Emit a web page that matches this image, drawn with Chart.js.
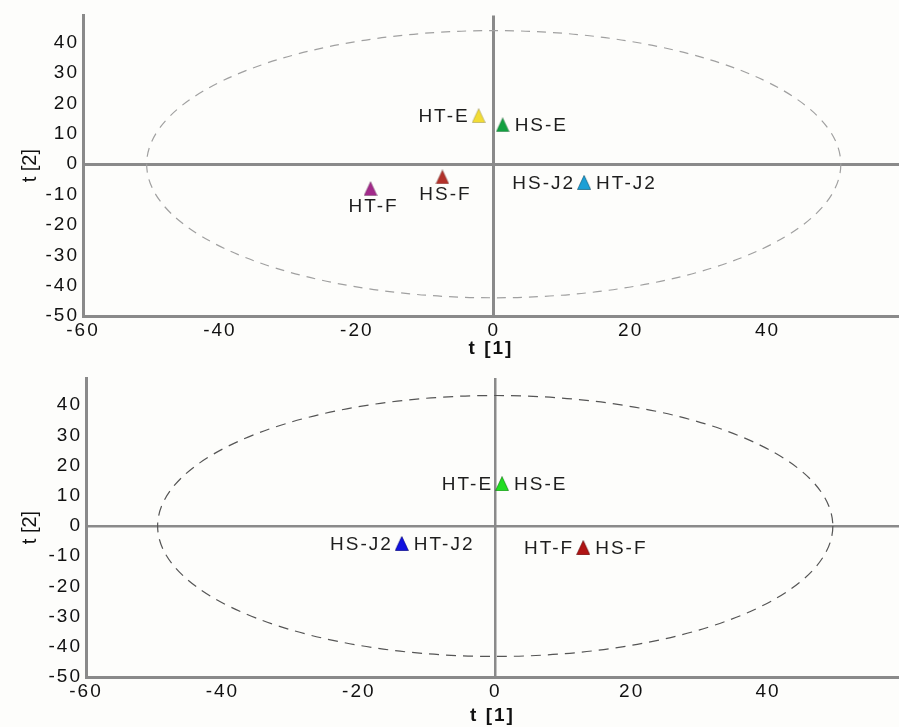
<!DOCTYPE html>
<html>
<head>
<meta charset="utf-8">
<script src="https://cdn.jsdelivr.net/npm/chart.js@4/dist/chart.umd.min.js"></script>
<style>
  html, body { margin: 0; padding: 0; background: #fdfdfb; }
  #c1 { position: absolute; left: 0; top: 0; }
  #c2 { position: absolute; left: 0; top: 360px; }
</style>
</head>
<body>
<canvas id="c1" width="899" height="360"></canvas>
<canvas id="c2" width="899" height="367"></canvas>
<script>
// -------------------- DATA --------------------
const xTicks = [-60, -40, -20, 0, 20, 40];
const yTicks = [-50, -40, -30, -20, -10, 0, 10, 20, 30, 40];

// top score plot
const topNames = ["HT-E", "HS-E", "HS-F", "HT-F", "HS-J2", "HT-J2"];
const topX = [-2.2, 1.3, -7.5, -18.0, 13.2, 13.2];
const topY = [16.0, 13.0, -4.2, -8.0, -6.0, -6.0];
const topColors = ["#f2dc34", "#12a040", "#b2312a", "#a22a8a", "#1d9fd6", "#1d9fd6"];
const topEllipse = { rx: 50.7, ry: 44 };

// bottom score plot
const botNames = ["HT-E", "HS-E", "HS-J2", "HT-J2", "HT-F", "HS-F"];
const botX = [1.0, 1.0, -13.7, -13.7, 12.9, 12.9];
const botY = [14.0, 14.0, -5.8, -5.8, -7.2, -7.2];
const botColors = ["#22dd22", "#22dd22", "#1212e0", "#1212e0", "#b01414", "#b01414"];
const botEllipse = { rx: 49.5, ry: 43.2 };

// where each label sits relative to its marker
const topPlace = { "HT-E": "left", "HS-E": "right", "HS-F": "below", "HT-F": "below", "HS-J2": "left", "HT-J2": "right" };
const botPlace = { "HT-E": "left", "HS-E": "right", "HS-J2": "left", "HT-J2": "right", "HT-F": "left", "HS-F": "right" };

const FONT = "'Liberation Sans', Arial, sans-serif";
const AXIS_GRAY = "#8a8a8a";
const SPACING = "2px"; // the original lettering is wide

// -------------------- HELPERS --------------------
function triangle(color) {
  const c = document.createElement("canvas");
  c.width = 14; c.height = 15;
  const g = c.getContext("2d");
  g.beginPath();
  g.moveTo(7, 0.5);
  g.lineTo(13.5, 14.5);
  g.lineTo(0.5, 14.5);
  g.closePath();
  g.fillStyle = color;
  g.fill();
  g.lineWidth = 0.6;
  g.strokeStyle = "rgba(0,0,0,0.35)";
  g.stroke();
  return c;
}

const spacingPlugin = {
  id: "spacing",
  beforeDraw(chart) { chart.ctx.letterSpacing = SPACING; }
};

const ellipsePlugin = {
  id: "ellipse",
  beforeDatasetsDraw(chart, args, opts) {
    const { ctx, scales: { x, y } } = chart;
    const cx = x.getPixelForValue(0), cy = y.getPixelForValue(0);
    const rx = x.getPixelForValue(opts.rx) - cx;
    const ry = cy - y.getPixelForValue(opts.ry);
    ctx.save();
    ctx.beginPath();
    ctx.setLineDash(opts.dash);
    ctx.strokeStyle = opts.color;
    ctx.lineWidth = 1.2;
    ctx.ellipse(cx, cy, rx, ry, 0, 0, Math.PI * 2);
    ctx.stroke();
    ctx.restore();
  }
};

const labelPlugin = {
  id: "pointLabels",
  afterDatasetsDraw(chart, args, opts) {
    const { ctx, scales: { y } } = chart;
    const meta = chart.getDatasetMeta(0);
    const names = chart.data.labels;
    ctx.save();
    ctx.font = "19px " + FONT;
    ctx.fillStyle = "#1e1e1e";
    ctx.textBaseline = "middle";
    meta.data.forEach((pt, i) => {
      const where = opts.place[names[i]];
      if (where === "left") {
        ctx.textAlign = "right";
        ctx.fillText(names[i], pt.x - 9, pt.y + 1);
      } else if (where === "right") {
        ctx.textAlign = "left";
        ctx.fillText(names[i], pt.x + 12, pt.y + 1);
      } else {
        ctx.textAlign = "center";
        ctx.fillText(names[i], pt.x + 3, pt.y + 18);
      }
    });
    // y axis title, drawn without the extra spacing
    ctx.letterSpacing = "0px";
    ctx.translate(opts.titleX, (y.top + y.bottom) / 2);
    ctx.rotate(-Math.PI / 2);
    ctx.textAlign = "center";
    ctx.font = "20px " + FONT;
    ctx.fillStyle = "#111";
    ctx.fillText("t [2]", 0, 0);
    ctx.restore();
  }
};

function makeChart(id, names, xs, ys, colors, ell, place, opt) {
  const points = xs.map((v, i) => ({ x: v, y: ys[i] }));
  const styles = colors.map(triangle);
  return new Chart(document.getElementById(id), {
    type: "scatter",
    data: {
      labels: names,
      datasets: [{
        data: points,
        pointStyle: ctx => styles[ctx.dataIndex],
        pointRadius: 7
      }]
    },
    options: {
      responsive: false,
      animation: false,
      layout: { autoPadding: false, padding: { top: opt.top, right: 0, left: 0, bottom: 0 } },
      plugins: {
        legend: { display: false },
        tooltip: { enabled: false },
        ellipse: { rx: ell.rx, ry: ell.ry, color: opt.dashColor, dash: opt.dash },
        pointLabels: { place: place, titleX: 30 }
      },
      scales: {
        x: {
          type: "linear",
          min: -60, max: 59.2,
          afterBuildTicks: s => { s.ticks = xTicks.map(v => ({ value: v })); },
          afterFit: s => { s.height = opt.xHeight; s.paddingLeft = 0; s.paddingRight = 0; },
          border: { display: true, color: AXIS_GRAY, width: 3 },
          grid: {
            drawTicks: false,
            color: c => c.tick && c.tick.value === 0 ? AXIS_GRAY : "transparent",
            lineWidth: opt.zeroWidth
          },
          ticks: { color: "#111", padding: 3, font: { family: FONT, size: 19 } },
          title: {
            display: true, text: "t [1]", color: "#111",
            padding: { top: 1, bottom: 0 },
            font: { family: FONT, size: 19, weight: "bold" }
          }
        },
        y: {
          type: "linear",
          min: -50, max: 49,
          afterBuildTicks: s => { s.ticks = yTicks.map(v => ({ value: v })); },
          afterFit: s => { s.width = opt.yWidth; },
          border: { display: true, color: AXIS_GRAY, width: 3 },
          grid: {
            drawTicks: false,
            color: c => c.tick && c.tick.value === 0 ? AXIS_GRAY : "transparent",
            lineWidth: opt.zeroWidth
          },
          ticks: { color: "#111", padding: 4, font: { family: FONT, size: 19 } }
        }
      }
    },
    plugins: [spacingPlugin, ellipsePlugin, labelPlugin]
  });
}

makeChart("c1", topNames, topX, topY, topColors, topEllipse, topPlace,
  { top: 15, xHeight: 44, yWidth: 83, dashColor: "#a0a0a0", dash: [9, 7], zeroWidth: 3 });
makeChart("c2", botNames, botX, botY, botColors, botEllipse, botPlace,
  { top: 18, xHeight: 50, yWidth: 86, dashColor: "#555555", dash: [10, 7], zeroWidth: 2.5 });
</script>
</body>
</html>
